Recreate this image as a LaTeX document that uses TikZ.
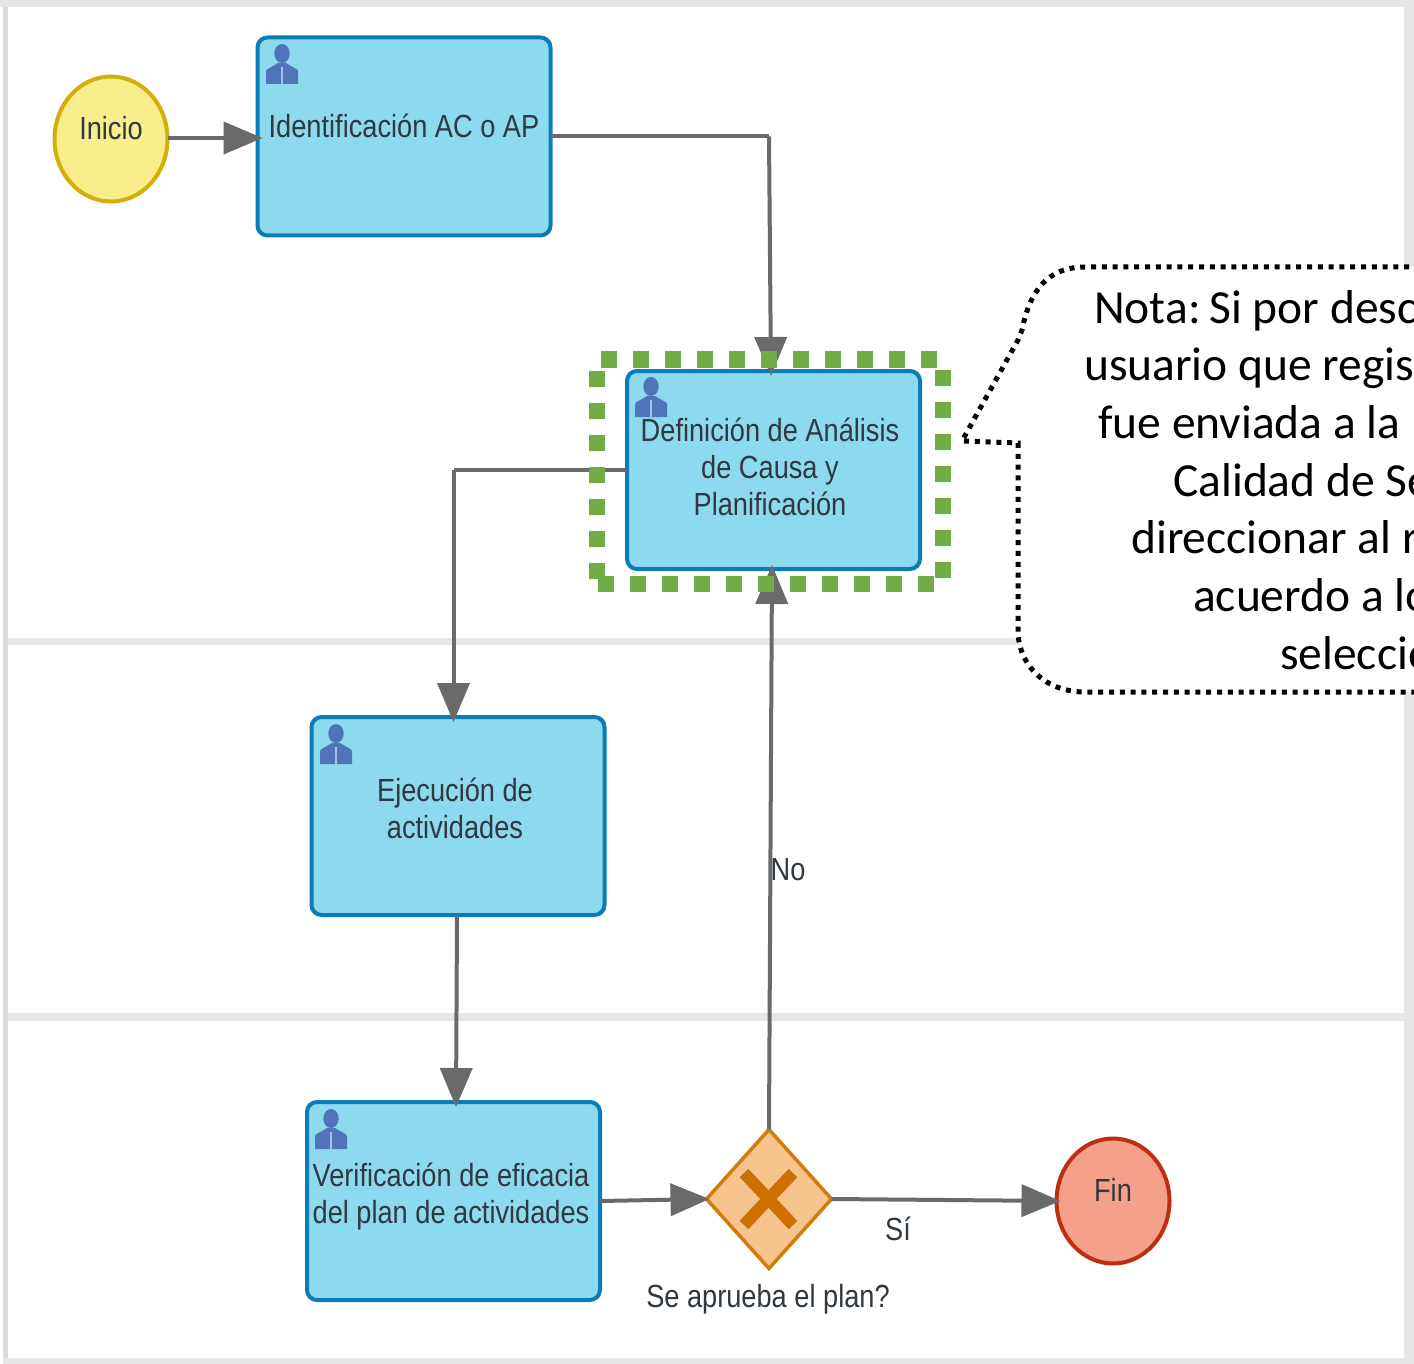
\documentclass[tikz,border=0pt]{standalone}
\usepackage{fontspec}
\usetikzlibrary{arrows.meta,shapes.geometric}
\setmainfont[FakeStretch=0.85]{Liberation Sans}
\newfontfamily\notefont{Carlito}
\definecolor{lanecol}{HTML}{E6E6E6}
\definecolor{sidecol}{HTML}{DADADA}
\definecolor{taskfill}{HTML}{8DD9EE}
\definecolor{taskline}{HTML}{0A7DB8}
\definecolor{iconcol}{HTML}{4F75B8}
\definecolor{tiecol}{HTML}{A9C0E4}
\definecolor{flowcol}{HTML}{6A6A6A}
\definecolor{labcol}{HTML}{303840}
\definecolor{startfill}{HTML}{FAEE8C}
\definecolor{startline}{HTML}{D4AE0A}
\definecolor{endfill}{HTML}{F4A08A}
\definecolor{endline}{HTML}{BE2E10}
\definecolor{gatefill}{HTML}{F8C48E}
\definecolor{gateline}{HTML}{D27C0A}
\definecolor{gatex}{HTML}{CC7000}
\definecolor{markgreen}{HTML}{70AD47}
\tikzset{
  task/.style={draw=taskline,fill=taskfill,line width=4pt,rounded corners=10pt,minimum width=293pt,minimum height=198pt,inner sep=0pt,outer sep=0pt,anchor=north west},
  eventnode/.style={ellipse,line width=4pt,minimum width=113pt,minimum height=125pt,inner sep=0pt,outer sep=0pt},
  gate/.style={diamond,draw=gateline,fill=gatefill,line width=3.5pt,minimum width=125pt,minimum height=139pt,inner sep=0pt,outer sep=0pt,aspect=0.9},
  lab/.style={text=labcol,font=\fontsize{32}{37}\selectfont,align=center,inner sep=0pt},
  flow/.style={draw=flowcol,line width=4pt},
  flowarrow/.style={flow,-{Triangle[length=39pt,width=32pt]}},
  selmark/.style={markgreen,line width=16pt,dash pattern=on 16pt off 16pt},
  notetxt/.style={font=\notefont\fontsize{47.5}{57}\selectfont,text=black,anchor=base west,inner sep=0pt},
  person/.pic={
    \fill[iconcol] (16,9.5) ellipse (7.7 and 9.5);
    \fill[iconcol] (0,40) -- (0,27) .. controls (0,25) and (6,23) .. (12,19) -- (20,19) .. controls (26,23) and (32,25) .. (32,27) -- (32,40) -- cycle;
    \draw[tiecol,line width=2.2pt] (16,23) -- (16,40);
  }
}
\begin{document}
\begin{tikzpicture}[x=1pt,y=-1pt]
\useasboundingbox (0,0) rectangle (1414,1364);
\fill[white] (0,0) rectangle (1414,1364);
% lanes
\fill[lanecol] (0,0) rectangle (1414,7);
\fill[lanecol] (1404,0) rectangle (1414,1364);
\fill[lanecol] (3,637.5) rectangle (1414,644.5);
\fill[lanecol] (3,1013) rectangle (1414,1021);
\fill[lanecol] (3,1358) rectangle (1414,1364);
\fill[sidecol] (3,7) rectangle (7.5,1358);

% callout
\fill[white] (1414,267) -- (1085,267) .. controls (1048,267) and (1030,290) .. (1022,330) -- (1018,340) -- (962,441) -- (1018,443) -- (1018,630) .. controls (1018,665) and (1045,692) .. (1085,692) -- (1414,692) -- cycle;
\draw[black,line width=5pt,dash pattern=on 5pt off 5.8pt] (1420,267) -- (1085,267) .. controls (1048,267) and (1030,290) .. (1022,330) -- (1018,340) -- (962,441) -- (1018,443) -- (1018,630) .. controls (1018,665) and (1045,692) .. (1085,692) -- (1420,692);
\node[notetxt] (n1) at (1094,323.5) {Nota:\kern-2pt\ Si por desc};
\node[notetxt] (n2) at (1084,381) {usuario que regis};
\node[notetxt] (n3) at (1098,438.5) {fue enviada a la};
\node[notetxt] (n4) at (1173,496) {Calidad de Se};
\node[notetxt] (n5) at (1131,553.5) {direccionar al r};
\node[notetxt] (n6) at (1193,611) {acuerdo a lo};
\node[notetxt] (n7) at (1280,669) {seleccio};

% shapes
\node[eventnode,draw=startline,fill=startfill] (ini) at (111,139) {};
\node[task] (b1) at (257.5,37.5) {};
\node[task] (b2) at (627,371) {};
\node[task] (b3) at (311.5,717) {};
\node[task] (b4) at (307,1102) {};
\node[gate] (gw) at (769,1199) {};
\node[eventnode,draw=endline,fill=endfill] (fin) at (1113,1201) {};

% connectors
\coordinate (c1) at (769,136.5);
\coordinate (c2) at (453.5,470);
\draw[flowarrow] ([yshift=1pt]ini.east) -- ([xshift=5pt,yshift=-1.5pt]b1.west);
\draw[flow] (b1.east) -- (c1);
\draw[flowarrow] (c1) -- ([xshift=-2.5pt,yshift=-5pt]b2.north);
\draw[flow] (b2.west) -- (c2);
\draw[flowarrow] (c2) -- ([xshift=-4.5pt,yshift=-5pt]b3.north);
\draw[flowarrow] ([xshift=-1pt]b3.south) -- ([xshift=2.5pt,yshift=-5pt]b4.north);
\draw[flowarrow] (b4.east) -- ([xshift=3pt]gw.west);
\draw[flowarrow] (gw.north) -- ([xshift=-1.5pt,yshift=4pt]b2.south);
\draw[flowarrow] (gw.east) -- ([xshift=4pt]fin.west);

% green selection
\draw[selmark] (601,359.5) -- (943,359.5) -- (943,584) -- (598,584);
\draw[selmark] (597,579) -- (597,371);

% icons
\pic at (266,44) {person};
\pic at (635,377) {person};
\pic at (320,724) {person};
\pic at (315,1109) {person};

% gateway mark
\draw[gatex,line width=12pt] (744,1173) -- (793,1225);
\draw[gatex,line width=12pt] (793,1173) -- (744,1225);

% labels
\node[lab] (tini) at (111,128) {Inicio};
\node[lab] (t1) at (404,125.5) {Identificación AC o AP};
\node[lab] (t2) at (770,466.5) {Definición de Análisis\\de Causa y\\Planificación};
\node[lab] (t3) at (455,808.5) {Ejecución de\\actividades};
\node[lab] (t4) at (451,1197) {Verificación de eficacia\\del plan de actividades};
\node[lab] (tfin) at (1113,1190) {Fin};
\node[lab] (tno) at (788,870) {No};
\node[lab] (tsi) at (898,1229) {Sí};
\node[lab] (tgw) at (768,1299) {Se aprueba el plan?};
\end{tikzpicture}
\end{document}
